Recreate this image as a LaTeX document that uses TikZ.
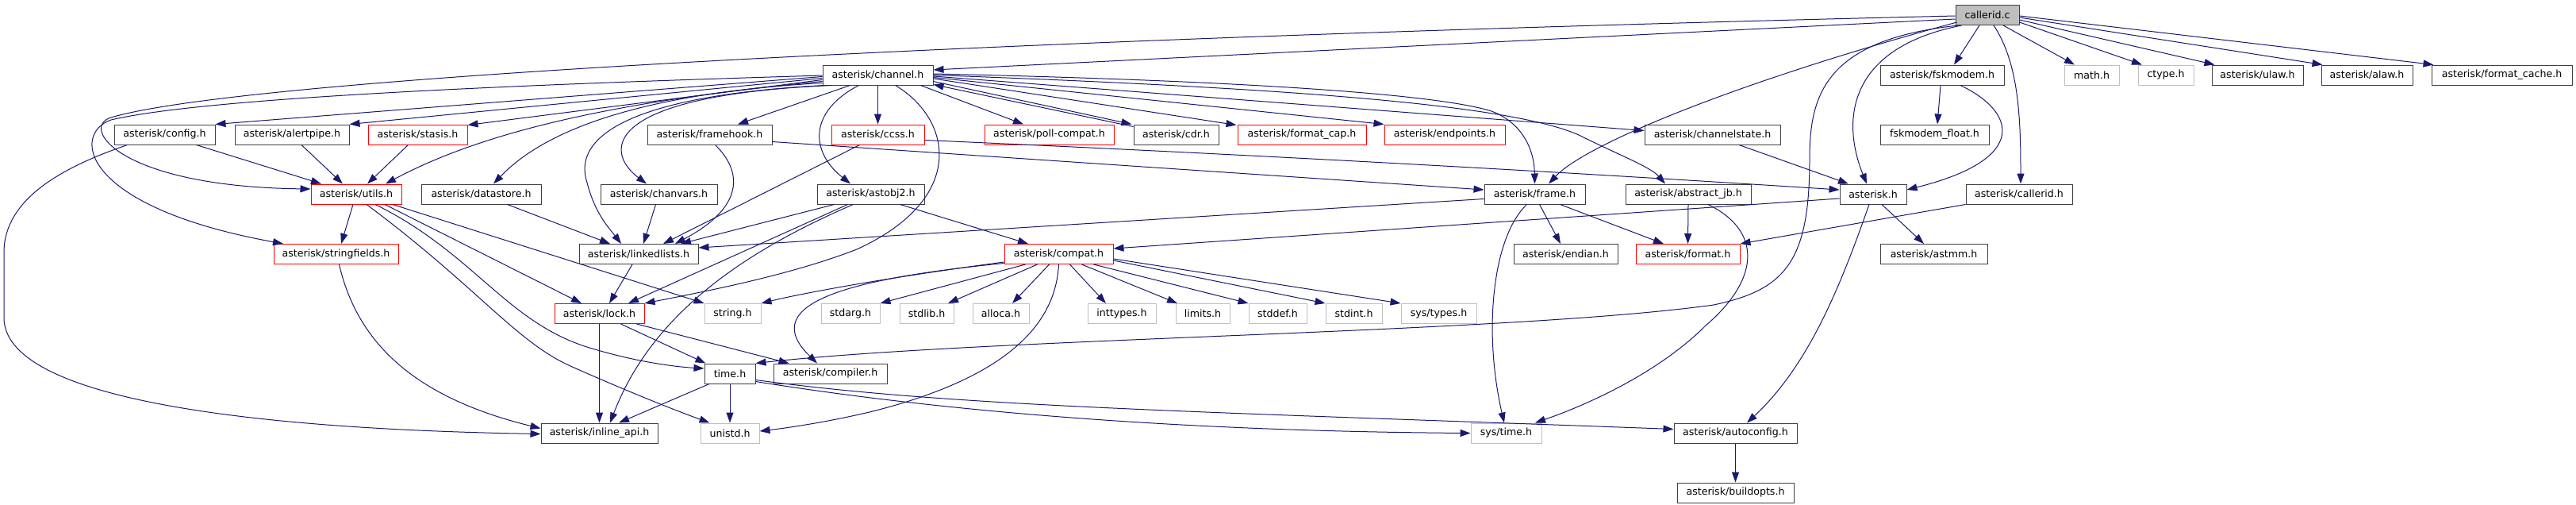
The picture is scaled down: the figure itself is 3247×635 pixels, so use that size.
\documentclass[tikz,border=0pt]{standalone}
\usepackage{fontspec}
\setmainfont{DejaVu Sans}
\usetikzlibrary{arrows.meta}
\definecolor{edgec}{HTML}{191970}
\definecolor{boxk}{HTML}{404040}
\definecolor{boxr}{HTML}{FF0000}
\definecolor{boxg}{HTML}{BFBFBF}
\begin{document}
\begin{tikzpicture}[x=1pt,y=-1pt,
  nb/.style={draw=boxk, line width=1pt, inner sep=0pt, minimum height=25pt, fill=white, text=black, font=\fontsize{12.6}{15}\selectfont},
  nr/.style={nb, draw=boxr},
  ng/.style={nb, draw=boxg},
  e/.style={draw=edgec, line width=1pt, -{Triangle[length=13pt,width=9pt]}}]
\useasboundingbox (0,0) rectangle (3247,635);
% row 0
\node[nb,fill=boxg,minimum width=80pt] (callerid) at (2505,19) {callerid.c};
% row 1
\node[nb,minimum width=139pt] (channel) at (1106.5,94.5) {asterisk/channel.h};
\node[nb,minimum width=156pt] (fskmodem) at (2448,94.5) {asterisk/fskmodem.h};
\node[ng,minimum width=69pt] (math) at (2636.5,94.5) {math.h};
\node[ng,minimum width=70pt] (ctype) at (2730,94.5) {ctype.h};
\node[nb,minimum width=115pt] (ulaw) at (2845.5,94.5) {asterisk/ulaw.h};
\node[nb,minimum width=115pt] (alaw) at (2983.5,94.5) {asterisk/alaw.h};
\node[nb,minimum width=177pt] (fcache) at (3153.5,94.5) {asterisk/format\_cache.h};
% row 2
\node[nb,minimum width=127pt] (config) at (207.5,169.5) {asterisk/config.h};
\node[nb,minimum width=144pt] (alertpipe) at (368,169.5) {asterisk/alertpipe.h};
\node[nr,minimum width=125pt] (stasis) at (526.5,169.5) {asterisk/stasis.h};
\node[nb,minimum width=157pt] (framehook) at (894.5,169.5) {asterisk/framehook.h};
\node[nr,minimum width=117pt] (ccss) at (1106.5,169.5) {asterisk/ccss.h};
\node[nr,minimum width=163pt] (pollcompat) at (1322.5,169.5) {asterisk/poll-compat.h};
\node[nb,minimum width=107pt] (cdr) at (1482.5,169.5) {asterisk/cdr.h};
\node[nr,minimum width=162pt] (formatcap) at (1641,169.5) {asterisk/format\_cap.h};
\node[nr,minimum width=152pt] (endpoints) at (1821,169.5) {asterisk/endpoints.h};
\node[nb,minimum width=171pt] (chanstate) at (2158.5,169.5) {asterisk/channelstate.h};
\node[nb,minimum width=137pt] (fskfloat) at (2438.5,169.5) {fskmodem\_float.h};
% row 3
\node[nr,minimum width=114pt] (utils) at (449,244.5) {asterisk/utils.h};
\node[nb,minimum width=151pt] (datastore) at (606.5,244.5) {asterisk/datastore.h};
\node[nb,minimum width=147pt] (chanvars) at (830.5,244.5) {asterisk/chanvars.h};
\node[nb,minimum width=135pt] (astobj2) at (1097.5,244.5) {asterisk/astobj2.h};
\node[nb,minimum width=127pt] (frame) at (1934.5,244.5) {asterisk/frame.h};
\node[nb,minimum width=158pt] (abjb) at (2128,244.5) {asterisk/abstract\_jb.h};
\node[nb,minimum width=84pt] (asterisk) at (2361,244.5) {asterisk.h};
\node[nb,minimum width=134pt] (calleridh) at (2545,244.5) {asterisk/callerid.h};
% row 4
\node[nr,minimum width=157pt] (stringfields) at (423.5,320) {asterisk/stringfields.h};
\node[nb,minimum width=150pt] (linkedlists) at (805,320) {asterisk/linkedlists.h};
\node[nr,minimum width=137pt] (compat) at (1334.5,320) {asterisk/compat.h};
\node[nb,minimum width=131pt] (endian) at (1973.5,320) {asterisk/endian.h};
\node[nr,minimum width=131pt] (format) at (2127.5,320) {asterisk/format.h};
\node[nb,minimum width=135pt] (astmm) at (2437.5,320) {asterisk/astmm.h};
% row 5
\node[nr,minimum width=113pt] (lock) at (755.5,395) {asterisk/lock.h};
\node[ng,minimum width=71pt] (string) at (923.5,395) {string.h};
\node[ng,minimum width=74pt] (stdarg) at (1072,395) {stdarg.h};
\node[ng,minimum width=68pt] (stdlib) at (1168,395) {stdlib.h};
\node[ng,minimum width=71pt] (alloca) at (1261.5,395) {alloca.h};
\node[ng,minimum width=86pt] (inttypes) at (1414,395) {inttypes.h};
\node[ng,minimum width=68pt] (limits) at (1516,395) {limits.h};
\node[ng,minimum width=73pt] (stddef) at (1610.5,395) {stddef.h};
\node[ng,minimum width=71pt] (stdint) at (1706.5,395) {stdint.h};
\node[ng,minimum width=95pt] (systypes) at (1813.5,395) {sys/types.h};
% row 6
\node[nb,minimum width=64pt] (time) at (920,470.5) {time.h};
\node[nb,minimum width=143pt] (compiler) at (1046.5,470.5) {asterisk/compiler.h};
% row 7
\node[nb,minimum width=147pt] (inlineapi) at (755.5,545.5) {asterisk/inline\_api.h};
\node[ng,minimum width=74pt] (unistd) at (920,545.5) {unistd.h};
\node[ng,minimum width=89pt] (systime) at (1898.5,545.5) {sys/time.h};
\node[nb,minimum width=155pt] (autoconfig) at (2187.5,545.5) {asterisk/autoconfig.h};
% row 8
\node[nb,minimum width=147pt] (buildopts) at (2187.5,620.5) {asterisk/buildopts.h};

% ---- edges from callerid.c
\draw[e] ([shift={(0,5)}]callerid.west) -- ([shift={(0,-6.5)}]channel.east);
\draw[e] ([shift={(0,1)}]callerid.west) .. controls (1200,50) and (300,100) .. (140,148) .. controls (100,160) and (150,235) .. ([shift={(0,-6.5)}]utils.west);
\draw[e] ([shift={(2,-4)}]callerid.south west) .. controls (2200,100) and (2000,180) .. ([shift={(17.5,0)}]frame.north);
\draw[e] ([shift={(4,0)}]callerid.south west) .. controls (2300,50) and (2281,120) .. (2281,200) .. controls (2281,330) and (2250,365) .. (2160,384) .. controls (1900,420) and (1250,425) .. (time.north east);
\draw[e] ([shift={(8,0)}]callerid.south west) .. controls (2330,60) and (2320,150) .. ([shift={(-8,0)}]asterisk.north);
\draw[e] ([shift={(-10,0)}]callerid.south) -- ([shift={(15,0)}]fskmodem.north);
\draw[e] ([shift={(8,0)}]callerid.south) .. controls (2545,80) and (2547,150) .. ([shift={(2,0)}]calleridh.north);
\draw[e] ([shift={(20,0)}]callerid.south) -- ([shift={(-21.5,0)}]math.north);
\draw[e] ([shift={(0,-4)}]callerid.south east) -- ([shift={(-30,0)}]ctype.north);
\draw[e] ([shift={(0,-7)}]callerid.south east) -- ([shift={(4,0)}]ulaw.north west);
\draw[e] ([shift={(0,-10)}]callerid.south east) -- ([shift={(2,0)}]alaw.north west);
\draw[e] ([shift={(0,-12)}]callerid.south east) -- ([shift={(3,0)}]fcache.north west);

% ---- edges from channel.h
\draw[e] ([shift={(0,0.5)}]channel.west) .. controls (600,108) and (250,125) .. (140,151) .. controls (90,168) and (100,260) .. ([shift={(-66.5,0)}]stringfields.north);
\draw[e] ([shift={(0,2)}]channel.west) -- (config.north east);
\draw[e] ([shift={(0,4)}]channel.west) -- (alertpipe.north east);
\draw[e] ([shift={(0,6)}]channel.west) -- ([shift={(0,1)}]stasis.north east);
\draw[e] ([shift={(0,8)}]channel.west) .. controls (800,125) and (620,160) .. ([shift={(37,0)}]utils.north);
\draw[e] ([shift={(0,10)}]channel.west) .. controls (850,115) and (700,150) .. ([shift={(15.5,0)}]datastore.north);
\draw[e] ([shift={(3,0)}]channel.south west) .. controls (800,120) and (720,170) .. (740,230) .. controls (750,270) and (770,290) .. ([shift={(-22,0)}]linkedlists.north);
\draw[e] ([shift={(12,0)}]channel.south west) .. controls (760,120) and (760,190) .. ([shift={(-15.5,0)}]chanvars.north);
\draw[e] ([shift={(35,0)}]channel.south west) -- ([shift={(35.5,0)}]framehook.north);
\draw[e] ([shift={(46,0)}]channel.south west) .. controls (1020,140) and (1020,190) .. ([shift={(-25.5,0)}]astobj2.north);
\draw[e] (channel.south) -- (ccss.north);
\draw[e] ([shift={(22,0)}]channel.south) .. controls (1200,150) and (1220,250) .. (1080,314) .. controls (1000,345) and (900,365) .. (lock.north east);
\draw[e] ([shift={(-16,0)}]channel.south east) -- ([shift={(-32.5,0)}]pollcompat.north);
\draw[e] ([shift={(0,-5)}]channel.south east) -- ([shift={(-2,0)}]cdr.north west);
\draw[e] ([shift={(0,3)}]cdr.north west) -- ([shift={(0,-1)}]channel.south east);
\draw[e] ([shift={(0,4.5)}]channel.east) -- ([shift={(-1,1)}]formatcap.north west);
\draw[e] ([shift={(0,3)}]channel.east) -- (endpoints.north west);
\draw[e] ([shift={(0,1.5)}]channel.east) -- ([shift={(0,-5)}]chanstate.west);
\draw[e] ([shift={(0,-1.5)}]channel.east) .. controls (1500,100) and (1800,115) .. (1880,140) .. controls (1920,155) and (1934,190) .. (frame.north);
\draw[e] (channel.east) .. controls (1600,110) and (1900,130) .. (1990,170) .. controls (2040,195) and (2080,210) .. ([shift={(-29,0)}]abjb.north);

% ---- row 2 sources
\draw[e] ([shift={(40,0)}]config.south) -- ([shift={(-44,0)}]utils.north);
\draw[e] ([shift={(-47,0)}]config.south) .. controls (80,210) and (5,250) .. (5,318) -- (5,400) .. controls (5,500) and (300,540) .. ([shift={(0,1)}]inlineapi.west);
\draw[e] ([shift={(12,0)}]alertpipe.south) -- ([shift={(-17,0)}]utils.north);
\draw[e] ([shift={(-12,0)}]stasis.south) -- ([shift={(14,0)}]utils.north);
\draw[e] ([shift={(7,0)}]framehook.south) .. controls (935,215) and (940,260) .. ([shift={(46,0)}]linkedlists.north);
\draw[e] ([shift={(0,9)}]framehook.east) -- ([shift={(0,-5.5)}]frame.west);
\draw[e] ([shift={(-23,0)}]ccss.south) -- ([shift={(31,0)}]linkedlists.north);
\draw[e] ([shift={(0,7)}]ccss.east) .. controls (1700,200) and (2100,225) .. ([shift={(0,-5.5)}]asterisk.west);
\draw[e] ([shift={(-2,0)}]fskmodem.south) -- ([shift={(3.5,0)}]fskfloat.north);
\draw[e] ([shift={(23,0)}]fskmodem.south) .. controls (2540,140) and (2560,200) .. ([shift={(0,-5.5)}]asterisk.east);
\draw[e] ([shift={(33.5,0)}]chanstate.south) -- ([shift={(-31,0)}]asterisk.north);

% ---- row 3 sources
\draw[e] ([shift={(-4,0)}]utils.south) -- ([shift={(6.5,0)}]stringfields.north);
\draw[e] ([shift={(36,0)}]utils.south) -- ([shift={(-22.5,0)}]lock.north);
\draw[e] ([shift={(46,0)}]utils.south) -- (string.north west);
\draw[e] ([shift={(24,0)}]utils.south) .. controls (600,320) and (640,410) .. (750,440) .. controls (800,455) and (850,462) .. ([shift={(0,-6.5)}]time.west);
\draw[e] ([shift={(13,0)}]utils.south) .. controls (600,360) and (650,430) .. (719,461) .. controls (800,497) and (860,520) .. ([shift={(12,0)}]unistd.north west);
\draw[e] ([shift={(33,0)}]datastore.south) -- ([shift={(-36,0)}]linkedlists.north);
\draw[e] ([shift={(-4,0)}]chanvars.south) -- ([shift={(6,0)}]linkedlists.north);
\draw[e] ([shift={(-46,0)}]astobj2.south) -- ([shift={(53,0)}]linkedlists.north);
\draw[e] ([shift={(-29,0)}]astobj2.south) -- ([shift={(36.5,0)}]lock.north);
\draw[e] ([shift={(-22,0)}]astobj2.south) .. controls (930,320) and (820,400) .. ([shift={(13.5,0)}]inlineapi.north);
\draw[e] ([shift={(37,0)}]astobj2.south) -- ([shift={(-38.5,0)}]compat.north);
\draw[e] ([shift={(0,6)}]frame.west) -- ([shift={(0,-8)}]linkedlists.east);
\draw[e] ([shift={(6,0)}]frame.south) -- ([shift={(-6.5,0)}]endian.north);
\draw[e] ([shift={(32,0)}]frame.south) -- ([shift={(-30.5,0)}]format.north);
\draw[e] ([shift={(-10,0)}]frame.south) .. controls (1880,300) and (1870,420) .. ([shift={(-2.5,0)}]systime.north);
\draw[e] (abjb.south) -- (format.north);
\draw[e] ([shift={(25,0)}]abjb.south) .. controls (2220,290) and (2220,350) .. (2150,410) .. controls (2090,470) and (2000,510) .. ([shift={(36.5,0)}]systime.north);
\draw[e] ([shift={(0,5.5)}]asterisk.west) -- ([shift={(0,-7)}]compat.east);
\draw[e] ([shift={(11,0)}]asterisk.south) -- ([shift={(-12.5,0)}]astmm.north);
\draw[e] ([shift={(-5,0)}]asterisk.south) .. controls (2320,360) and (2280,460) .. ([shift={(14.5,0)}]autoconfig.north);
\draw[e] (calleridh.south west) -- (format.north east);

% ---- row 4 sources
\draw[e] ([shift={(4,0)}]stringfields.south) .. controls (450,430) and (520,500) .. ([shift={(0,-6)}]inlineapi.west);
\draw[e] ([shift={(-8,0)}]linkedlists.south) -- ([shift={(12.5,0)}]lock.north);
\draw[e] ([shift={(0,10)}]compat.west) .. controls (1100,352) and (1000,372) .. (string.north east);
\draw[e] ([shift={(0,11.5)}]compat.west) .. controls (1080,350) and (950,380) .. ([shift={(-16.5,0)}]compiler.north);
\draw[e] ([shift={(-42,0)}]compat.south) -- (stdarg.north east);
\draw[e] ([shift={(-27,0)}]compat.south) -- ([shift={(27,0)}]stdlib.north);
\draw[e] ([shift={(-12,0)}]compat.south) -- ([shift={(14.5,0)}]alloca.north);
\draw[e] ([shift={(14,0)}]compat.south) -- ([shift={(-20,0)}]inttypes.north);
\draw[e] ([shift={(29,0)}]compat.south) -- ([shift={(-32,0)}]limits.north);
\draw[e] ([shift={(44,0)}]compat.south) -- (stddef.north west);
\draw[e] ([shift={(0,-5)}]compat.south east) -- (stdint.north west);
\draw[e] ([shift={(0,-7)}]compat.south east) -- (systypes.north west);
\draw[e] (compat.south) .. controls (1330,420) and (1250,480) .. (1100,518) .. controls (1050,530) and (1000,538) .. ([shift={(0,-2.5)}]unistd.east);

% ---- row 5/6/7 sources
\draw[e] (lock.south) -- (inlineapi.north);
\draw[e] ([shift={(27,0)}]lock.south) -- ([shift={(2,0)}]time.north west);
\draw[e] ([shift={(47,0)}]lock.south) -- ([shift={(20,0)}]compiler.north west);
\draw[e] ([shift={(-26,0)}]time.south) -- ([shift={(24.5,0)}]inlineapi.north);
\draw[e] (time.south) -- (unistd.north);
\draw[e] ([shift={(0,-3)}]time.south east) .. controls (1200,520) and (1500,543) .. (systime.west);
\draw[e] ([shift={(0,-5)}]time.south east) .. controls (1200,512) and (1500,518) .. ([shift={(0,-5)}]autoconfig.west);
\draw[e] (autoconfig.south) -- (buildopts.north);
\end{tikzpicture}
\end{document}
